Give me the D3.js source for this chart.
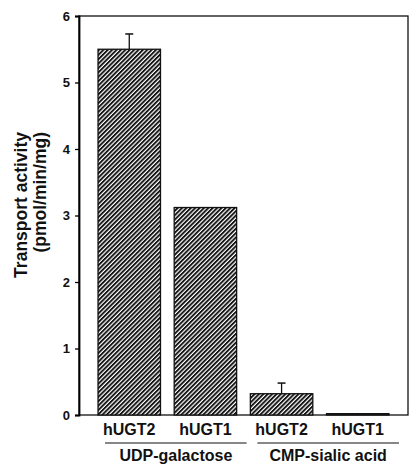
<!DOCTYPE html>
<html>
<head>
<meta charset="utf-8">
<script src="https://cdn.jsdelivr.net/npm/d3@7"></script>
<style>
  body { margin: 0; background: #fff; }
  text { font-family: "Liberation Sans", Arial, sans-serif; fill: #111; }
</style>
</head>
<body>
<div id="chart"></div>
<script>
"use strict";

// data
var bars = ["hUGT2", "hUGT1", "hUGT2 ", "hUGT1 "];
var barLabels = ["hUGT2", "hUGT1", "hUGT2", "hUGT1"];
var groups = ["UDP-galactose", "CMP-sialic acid"];
var groupOf = [0, 0, 1, 1];
var values = [5.5, 3.12, 0.32, 0.02];
var errors = [0.23, 0, 0.16, 0];
var yTicks = [0, 1, 2, 3, 4, 5, 6];

var width = 411, height = 466;
var margin = { top: 16, right: 3, bottom: 51, left: 79 };
var w = width - margin.left - margin.right,
    h = height - margin.top - margin.bottom;

var svg = d3.select("#chart").append("svg")
    .attr("width", width)
    .attr("height", height);

// hatch pattern
var defs = svg.append("defs");
var pat = defs.append("pattern")
    .attr("id", "hatch")
    .attr("patternUnits", "userSpaceOnUse")
    .attr("width", 3.1).attr("height", 3.1)
    .attr("patternTransform", "rotate(45)");
pat.append("rect").attr("width", 3.1).attr("height", 3.1).attr("fill", "#fff");
pat.append("rect").attr("width", 1.9).attr("height", 3.1).attr("fill", "#151515");

var g = svg.append("g")
    .attr("transform", "translate(" + margin.left + "," + margin.top + ")");

var x = d3.scaleBand()
    .domain(bars)
    .range([0, w])
    .paddingInner(0.18)
    .paddingOuter(0.25);

var y = d3.scaleLinear()
    .domain([0, 6])
    .range([h, 0]);

// frame
g.append("rect")
    .attr("width", w).attr("height", h)
    .attr("fill", "none")
    .attr("stroke", "#111")
    .attr("stroke-width", 1.3);

// y axis
var yAxis = g.append("g")
    .call(d3.axisLeft(y).tickValues(yTicks).tickFormat(d3.format("d"))
      .tickSize(4).tickPadding(5));
yAxis.select(".domain").attr("stroke-width", 1.8);
yAxis.selectAll(".tick line").attr("stroke-width", 1.3);
yAxis.selectAll("text")
    .style("font-size", "13px")
    .style("font-weight", "bold");

// y title (end-aligned, as in the figure)
svg.append("text")
    .attr("transform", "translate(27,132) rotate(-90)")
    .attr("text-anchor", "end")
    .style("font-size", "17.5px")
    .style("font-weight", "bold")
    .text("Transport activity");
svg.append("text")
    .attr("transform", "translate(46,132) rotate(-90)")
    .attr("text-anchor", "end")
    .style("font-size", "17.5px")
    .style("font-weight", "bold")
    .text("(pmol/min/mg)");

// bars
g.selectAll(".bar")
    .data(values)
    .enter().append("rect")
    .attr("class", "bar")
    .attr("x", function(d, i) { return x(bars[i]); })
    .attr("width", x.bandwidth())
    .attr("y", function(d) { return y(d); })
    .attr("height", function(d) { return h - y(d); })
    .attr("fill", "url(#hatch)")
    .attr("stroke", "#111")
    .attr("stroke-width", 1.3);

// error bars (upper only)
var eb = g.selectAll(".err")
    .data(values.map(function(v, i) { return { v: v, e: errors[i], i: i }; })
      .filter(function(d) { return d.e > 0; }))
    .enter().append("g").attr("class", "err");
eb.append("line")
    .attr("x1", function(d) { return x(bars[d.i]) + x.bandwidth() / 2; })
    .attr("x2", function(d) { return x(bars[d.i]) + x.bandwidth() / 2; })
    .attr("y1", function(d) { return y(d.v); })
    .attr("y2", function(d) { return y(d.v + d.e); })
    .attr("stroke", "#111").attr("stroke-width", 1.3);
eb.append("line")
    .attr("x1", function(d) { return x(bars[d.i]) + x.bandwidth() / 2 - 4; })
    .attr("x2", function(d) { return x(bars[d.i]) + x.bandwidth() / 2 + 4; })
    .attr("y1", function(d) { return y(d.v + d.e); })
    .attr("y2", function(d) { return y(d.v + d.e); })
    .attr("stroke", "#111").attr("stroke-width", 1.5);

// category labels
g.selectAll(".cat")
    .data(barLabels)
    .enter().append("text")
    .attr("class", "cat")
    .attr("x", function(d, i) { return x(bars[i]) + x.bandwidth() / 2; })
    .attr("y", h + 20)
    .attr("text-anchor", "middle")
    .style("font-size", "16px")
    .style("font-weight", "bold")
    .text(function(d) { return d; });

// group underline + label
groups.forEach(function(name, gi) {
  var idx = [];
  groupOf.forEach(function(k, i) { if (k === gi) idx.push(i); });
  var x0 = x(bars[idx[0]]) + 7,
      x1 = x(bars[idx[idx.length - 1]]) + x.bandwidth() + 10;
  g.append("line")
      .attr("x1", x0).attr("x2", x1)
      .attr("y1", h + 28).attr("y2", h + 28)
      .attr("stroke", "#111").attr("stroke-width", 1.2);
  g.append("text")
      .attr("x", (x0 + x1) / 2)
      .attr("y", h + 46)
      .attr("text-anchor", "middle")
      .style("font-size", "16px")
      .style("font-weight", "bold")
      .text(name);
});
</script>
</body>
</html>
